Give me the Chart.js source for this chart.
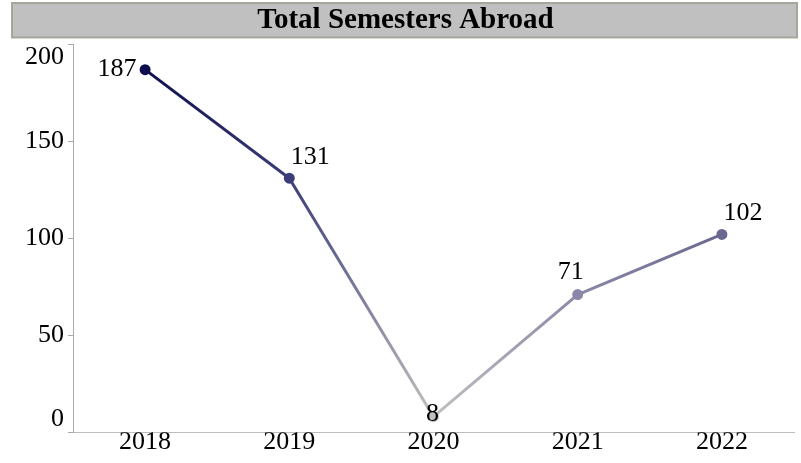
<!DOCTYPE html>
<html>
<head>
<meta charset="utf-8">
<script src="https://cdn.jsdelivr.net/npm/chart.js@4/dist/chart.umd.min.js"></script>
<style>
  html, body { margin: 0; padding: 0; background: #fff; }
  #wrap { width: 801px; height: 463px; }
</style>
</head>
<body>
<div id="wrap"><canvas id="SemesterChart"></canvas></div>
<script>
var years = ['2018', '2019', '2020', '2021', '2022'];
var semesters = [187, 131, 8, 71, 102];
var yTicks = [0, 50, 100, 150, 200];

// look
var pointColors = ['#0e0e4e', '#3c3c78', '#c0c0c0', '#8a88a8', '#6a6890'];
var labelOffsets = [[-28, 0], [21, -21], [-1, -3], [-7, -22], [21, -21]];
var serif = '"Liberation Serif", "Times New Roman", serif';
var titleGap = 7; // white space between the grey title bar and the plot

Chart.defaults.font.family = serif;
Chart.defaults.color = '#000';

// y labels at the two ends sit inside the axis, like the original
class InnerLinearScale extends Chart.LinearScale {
  _computeLabelItems(area) {
    var items = super._computeLabelItems(area);
    if (items.length) {
      items[0].options.textBaseline = 'bottom';
      items[items.length - 1].options.textBaseline = 'top';
    }
    return items;
  }
}
InnerLinearScale.id = 'innerLinear';
InnerLinearScale.defaults = Chart.LinearScale.defaults;
Chart.register(InnerLinearScale);

var titleBox = {
  id: 'titleBox',
  beforeDraw: function(chart) {
    var t = chart.titleBlock;
    var c = chart.ctx;
    c.save();
    c.fillStyle = '#c0c0c0';
    c.fillRect(t.left, t.top, t.width - 2, t.height - titleGap);
    c.strokeStyle = '#a6a69c';
    c.lineWidth = 2;
    c.strokeRect(t.left, t.top, t.width - 2, t.height - titleGap);
    c.restore();
  }
};

var valueLabels = {
  id: 'valueLabels',
  afterDatasetsDraw: function(chart) {
    var meta = chart.getDatasetMeta(0);
    var c = chart.ctx;
    c.save();
    c.font = '26px ' + serif;
    c.fillStyle = '#000';
    c.textAlign = 'center';
    c.textBaseline = 'middle';
    meta.data.forEach(function(pt, i) {
      c.fillText(String(semesters[i]), pt.x + labelOffsets[i][0], pt.y + labelOffsets[i][1]);
    });
    c.restore();
  }
};

var ctx = document.getElementById('SemesterChart').getContext('2d');
var chart = new Chart(ctx, {
  type: 'line',
  data: {
    labels: years,
    datasets: [{
      label: 'Semesters',
      data: semesters,
      borderWidth: 3,
      pointRadius: 4,
      pointBackgroundColor: pointColors,
      pointBorderColor: pointColors,
      segment: {
        borderColor: function(s) {
          var g = s.chart.ctx.createLinearGradient(s.p0.x, s.p0.y, s.p1.x, s.p1.y);
          g.addColorStop(0, pointColors[s.p0DataIndex]);
          g.addColorStop(1, pointColors[s.p1DataIndex]);
          return g;
        }
      }
    }]
  },
  options: {
    responsive: true,
    maintainAspectRatio: false,
    animation: false,
    layout: { padding: { left: 12, right: 2, top: 3, bottom: 10 } },
    plugins: {
      legend: { display: false },
      tooltip: { enabled: false },
      title: {
        display: true,
        text: 'Total Semesters Abroad',
        color: '#000',
        font: { size: 29, weight: 'bold', lineHeight: 1.05 },
        padding: { top: 2, bottom: 2 + titleGap }
      }
    },
    scales: {
      x: {
        offset: true,
        grid: { display: false, drawTicks: false },
        border: { color: '#bdbdbd' },
        ticks: { font: { size: 26, lineHeight: 0.8 }, padding: 0 }
      },
      y: {
        type: 'innerLinear',
        min: 0,
        max: 200,
        afterBuildTicks: function(scale) {
          scale.ticks = yTicks.map(function(v) { return { value: v }; });
        },
        afterFit: function(scale) { scale.width = 61; },
        grid: { drawOnChartArea: false, tickLength: 5, color: '#aaaaaa' },
        border: { color: '#aaaaaa' },
        ticks: { font: { size: 26 }, padding: 4 }
      }
    }
  },
  plugins: [titleBox, valueLabels]
});
</script>
</body>
</html>
